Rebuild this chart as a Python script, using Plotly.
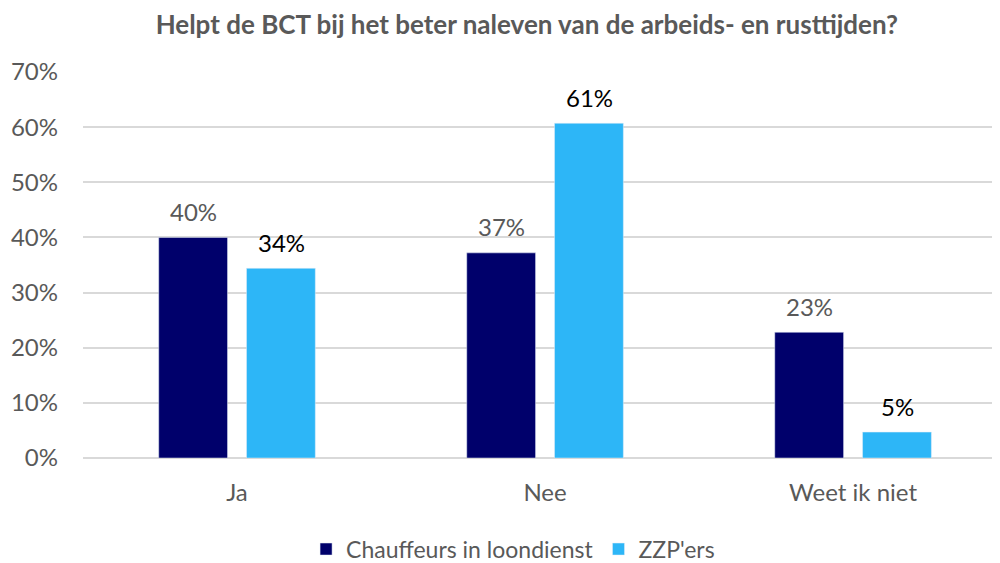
import plotly.graph_objects as go

categories = ["Ja", "Nee", "Weet ik niet"]
chauffeurs = [0.40, 0.372, 0.228]
zzp = [0.344, 0.607, 0.047]
series_names = ["Chauffeurs in loondienst", "ZZP'ers"]
tick_vals = [0, 0.1, 0.2, 0.3, 0.4, 0.5, 0.6, 0.7]
tick_text = ["0%", "10%", "20%", "30%", "40%", "50%", "60%", "70%"]

FONT = "Lato"
GRAY = "#595959"
fig = go.Figure()
fig.add_trace(go.Bar(x=categories, y=chauffeurs, name=series_names[0],
                     marker=dict(color="#00006B")))
fig.add_trace(go.Bar(x=categories, y=zzp, name=series_names[1],
                     marker=dict(color="#2DB6F7")))

for vals, shift, col in [(chauffeurs, -44, GRAY), (zzp, 44, "#000000")]:
    for c, v in zip(categories, vals):
        fig.add_annotation(x=c, y=v, xshift=shift, yshift=26, text=f"{round(v*100)}%",
                           showarrow=False, yanchor="middle", xanchor="center",
                           font=dict(size=24, color=col, family=FONT))

# the page body has an 8px margin; the figure is sized/offset to compensate
fig.update_layout(
    width=992, height=555,
    margin=dict(l=75, r=0, t=64, b=105, autoexpand=False),
    paper_bgcolor="white", plot_bgcolor="white",
    barmode="group", bargap=0.43, bargroupgap=0.216,
    font=dict(family=FONT, color=GRAY, size=24),
    title=dict(text="<b>Helpt de BCT bij het beter naleven van de arbeids- en rusttijden?</b>",
               x=0.523, xanchor="center", y=0.97, yanchor="middle",
               font=dict(size=26, color=GRAY, family=FONT)),
    showlegend=True,
    legend=dict(orientation="h", x=0.469, xanchor="center", y=-0.236, yanchor="middle",
                font=dict(size=23, color=GRAY, family=FONT)),
)
fig.update_xaxes(range=[-0.5, 2.477], showline=False, ticks="", automargin=False,
                 ticklabelstandoff=18, tickfont=dict(size=24, color=GRAY))
fig.update_yaxes(range=[0, 0.7], tickvals=tick_vals, ticktext=tick_text,
                 showgrid=True, gridcolor="#D9D9D9", gridwidth=1.5,
                 zeroline=True, zerolinecolor="#D9D9D9", zerolinewidth=1.5,
                 ticks="", ticklabelstandoff=24, automargin=False,
                 tickfont=dict(size=24, color=GRAY))
fig.write_html("out.html")
